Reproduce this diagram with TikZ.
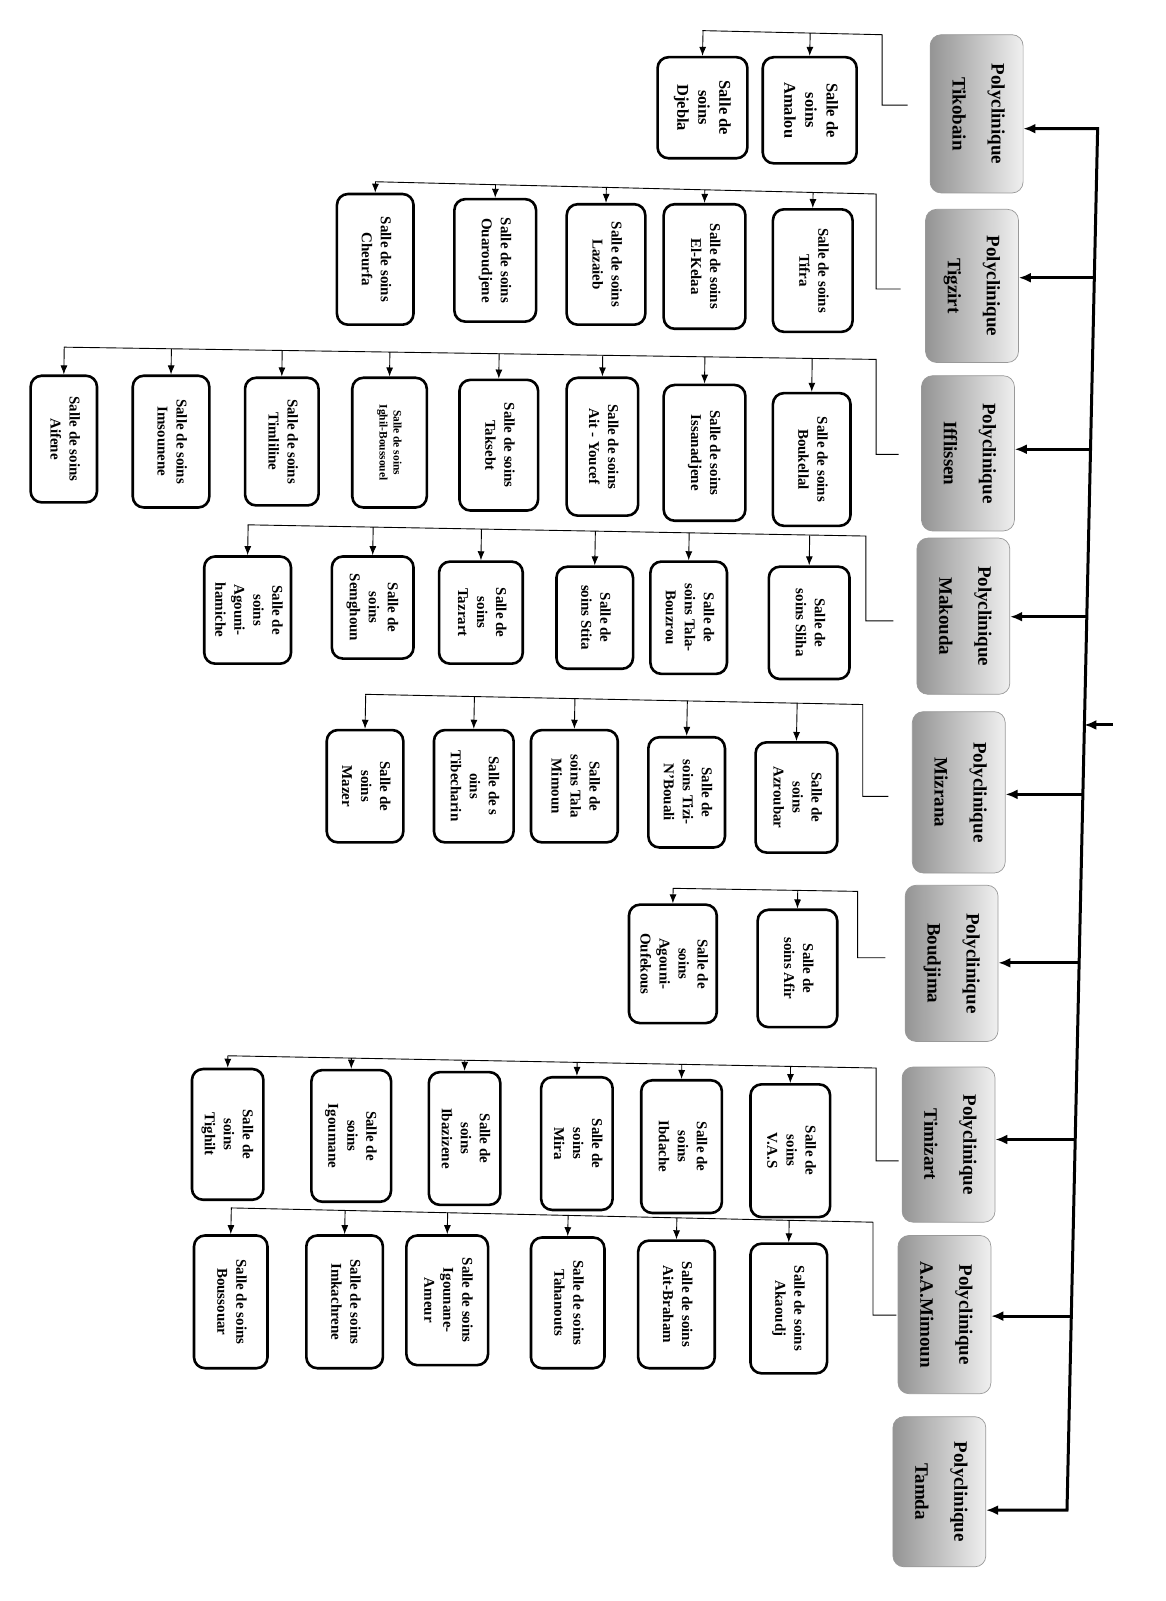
\documentclass[tikz,border=0pt]{standalone}
\usepackage{fontspec}
\setmainfont{Liberation Serif}
\usepackage{graphicx}
\usetikzlibrary{arrows.meta,calc}
\newcommand{\rotlab}[1]{\rotatebox{-90}{\begin{tabular}{@{}c@{}}#1\end{tabular}}}
\newcommand{\mkchild}[7][]{\node[sallebox,minimum width=#5*1.021pt,minimum height=#6*1.021pt,#1] (#2) at (#3,#4) {\rotlab{#7}};}
\newcommand{\mkpoly}[5]{\node[polybox,minimum height=#4*1.021pt] (#1) at (#2,#3) {\rotlab{Polyclinique\\[16pt]#5}};}
\begin{document}
\begin{tikzpicture}[x=1.021pt,y=-1.021pt,
  sallebox/.style={draw,line width=2.6pt,rounded corners=11pt,inner sep=0pt,font=\fontsize{15}{19}\selectfont\bfseries},
  polybox/.style={draw=gray!80,line width=0.7pt,rounded corners=11pt,inner sep=0pt,left color=black!42,right color=white!94!black,minimum width=91*1.021pt,font=\fontsize{19}{23}\selectfont\bfseries},
  conn/.style={line width=0.9pt},
  arr/.style={line width=0.9pt,-{Latex[length=9pt,width=7pt]}},
  bus/.style={line width=3pt},
  busarr/.style={line width=3pt,-{Latex[length=12pt,width=10pt]}}]
\useasboundingbox (0,0) rectangle (1141,1568);
% Polycliniques
\mkpoly{P1}{956.5}{111.5}{155}{Tikobain}
\mkpoly{P2}{952}{280}{150}{Tigzirt}
\mkpoly{P3}{948}{444}{152}{Ifflissen}
\mkpoly{P4}{943.5}{603.5}{153}{Makouda}
\mkpoly{P5}{939}{776}{158}{Mizrana}
\mkpoly{P6}{932}{943.5}{153}{Boudjima}
\mkpoly{P7}{929}{1121}{152}{Timizart}
\mkpoly{P8}{925}{1287.5}{155}{A.A.Mimoun}
\mkpoly{P9}{920}{1461}{147}{Tamda}
% bus
\coordinate (bT) at (1075,126);
\coordinate (bB) at (1045,1479);
\coordinate (b2) at (1071.8,272);
\coordinate (b3) at (1068,440);
\coordinate (b4) at (1064.4,604);
\coordinate (b5) at (1060.5,778);
\coordinate (b6) at (1056.9,943);
\coordinate (b7) at (1053,1116);
\coordinate (b8) at (1049.2,1289);
\coordinate (inS) at (1090,710);
\coordinate (inE) at (1062,710);
\draw[bus,{Latex[length=12pt,width=10pt]}-{Latex[length=12pt,width=10pt]}] (P9.east |- bB) -- (bB) -- (bT) -- (P1.east |- bT);
\foreach \b/\p in {b2/P2,b3/P3,b4/P4,b5/P5,b6/P6,b7/P7,b8/P8}
  \draw[busarr] (\b) -- (\p.east |- \b);
\draw[busarr] (inS) -- (inE);
% Group 1
\mkchild[font=\fontsize{16.5}{21}\selectfont\bfseries]{c11}{793}{108}{92}{104}{Salle de\\soins\\Amalou}
\mkchild[font=\fontsize{16.5}{21}\selectfont\bfseries]{c12}{688}{105.5}{88}{99}{Salle de\\soins\\Djebla}
\coordinate (s1) at (889,103);
\coordinate (eR1) at (864,34);
\coordinate (eL1) at (688,30);
\draw[conn] (s1) -| (eR1) -- (eL1);
\foreach \c in {c11,c12} \draw[arr] ($(eL1)!(\c.north)!(eR1)$) -- (\c.north);
% Group 2
\mkchild{c21}{796}{265}{78}{120}{Salle de soins\\Tifra}
\mkchild{c22}{690}{261}{80}{122}{Salle de soins\\El-Kelaa}
\mkchild{c23}{593.5}{259}{77}{118}{Salle de soins\\Lazaieb}
\mkchild{c24}{485}{255}{80}{120}{Salle de soins\\Ouaroudjene}
\mkchild{c25}{367.5}{254}{75}{128}{Salle de soins\\Cheurfa}
\coordinate (s2) at (882,283);
\coordinate (eR2) at (858,190);
\coordinate (eL2) at (367.5,178);
\draw[conn] (s2) -| (eR2) -- (eL2);
\foreach \c in {c21,c22,c23,c24,c25} \draw[arr] ($(eL2)!(\c.north)!(eR2)$) -- (\c.north);
% Group 3
\mkchild{c31}{795}{450}{76}{130}{Salle de soins\\Boukellal}
\mkchild{c32}{690}{443.5}{80}{133}{Salle de soins\\Issanadjene}
\mkchild{c33}{590}{437.5}{70}{135}{Salle de soins\\Ait - Youcef}
\mkchild{c34}{488.5}{436}{77}{128}{Salle de soins\\Taksebt}
\mkchild[font=\fontsize{11.5}{14}\selectfont\bfseries]{c35}{381.5}{433.5}{73}{127}{Salle de soins\\Ighil-Boussouel}
\mkchild{c36}{276}{432.5}{72}{125}{Salle de soins\\Timliline}
\mkchild{c37}{167.5}{432.5}{75}{129}{Salle de soins\\Imsounene}
\mkchild{c38}{62.5}{430}{65}{124}{Salle de soins\\Aifene}
\coordinate (s3) at (880,445);
\coordinate (eR3) at (858,352);
\coordinate (eL3) at (62.5,340);
\draw[conn] (s3) -| (eR3) -- (eL3);
\foreach \c in {c31,c32,c33,c34,c35,c36,c37,c38} \draw[arr] ($(eL3)!(\c.north)!(eR3)$) -- (\c.north);
% Group 4
\mkchild{c41}{792.5}{610}{79}{110}{Salle de\\soins Sliha}
\mkchild{c42}{674.5}{605}{75}{110}{Salle de\\soins Tala-\\Bouzrou}
\mkchild{c43}{582.5}{605}{75}{100}{Salle de\\soins Stita}
\mkchild{c44}{471}{600}{82}{100}{Salle de\\soins\\Tazrart}
\mkchild{c45}{365}{595}{80}{100}{Salle de\\soins\\Semghoun}
\mkchild{c46}{242.5}{597.5}{85}{105}{Salle de\\soins\\Agouni-\\hamiche}
\coordinate (s4) at (875,608);
\coordinate (eR4) at (848,525);
\coordinate (eL4) at (242.5,514);
\draw[conn] (s4) -| (eR4) -- (eL4);
\foreach \c in {c41,c42,c43,c44,c45,c46} \draw[arr] ($(eL4)!(\c.north)!(eR4)$) -- (\c.north);
% Group 5
\mkchild{c51}{780}{781}{80}{108}{Salle de\\soins\\Azroubar}
\mkchild{c52}{672.5}{776}{75}{108}{Salle de\\soins Tizi-\\N'Bouali}
\mkchild{c53}{562.5}{770}{85}{110}{Salle de\\soins Tala\\Mimoun}
\mkchild{c54}{464}{770}{78}{110}{Salle de s\\oins\\Tibecharin}
\mkchild{c55}{357.5}{770}{75}{110}{Salle de\\soins\\Mazer}
\coordinate (s5) at (870,780);
\coordinate (eR5) at (845,690);
\coordinate (eL5) at (357.5,680);
\draw[conn] (s5) -| (eR5) -- (eL5);
\foreach \c in {c51,c52,c53,c54,c55} \draw[arr] ($(eL5)!(\c.north)!(eR5)$) -- (\c.north);
% Group 6
\mkchild{c61}{781}{948.5}{78}{115}{Salle de\\soins Afir}
\mkchild{c62}{659}{944}{86}{116}{Salle de\\soins\\Agouni-\\Oufekous}
\coordinate (s6) at (867,938);
\coordinate (eR6) at (840,873);
\coordinate (eL6) at (659,870);
\draw[conn] (s6) -| (eR6) -- (eL6);
\foreach \c in {c61,c62} \draw[arr] ($(eL6)!(\c.north)!(eR6)$) -- (\c.north);
% Group 7
\mkchild{c71}{774}{1127}{78}{130}{Salle de\\soins\\V.A.S}
\mkchild{c72}{667.5}{1123}{79}{130}{Salle de\\soins\\Ibdache}
\mkchild{c73}{565}{1120}{70}{130}{Salle de\\soins\\Mira}
\mkchild{c74}{455}{1115}{70}{130}{Salle de\\soins\\Ibazizene}
\mkchild{c75}{344}{1112.5}{78}{129}{Salle de\\soins\\Igoumane}
\mkchild{c76}{223}{1111}{70}{128}{Salle de\\soins\\Tighilt}
\coordinate (s7) at (880,1137);
\coordinate (eR7) at (858,1046);
\coordinate (eL7) at (223,1034);
\draw[conn] (s7) -| (eR7) -- (eL7);
\foreach \c in {c71,c72,c73,c74,c75,c76} \draw[arr] ($(eL7)!(\c.north)!(eR7)$) -- (\c.north);
% Group 8
\mkchild{c81}{772.5}{1281.5}{75}{127}{Salle de soins\\Akaoudj}
\mkchild{c82}{662.5}{1277.5}{75}{125}{Salle de soins\\Ait-Braham}
\mkchild{c83}{556}{1276}{72}{128}{Salle de soins\\Tahanouts}
\mkchild{c84}{438}{1273.5}{80}{127}{Salle de soins\\Igounane-\\Ameur}
\mkchild{c85}{337.5}{1275}{75}{130}{Salle de soins\\Imkachrene}
\mkchild{c86}{226}{1275}{72}{130}{Salle de soins\\Boussouar}
\coordinate (s8) at (878,1288);
\coordinate (eR8) at (855,1197);
\coordinate (eL8) at (226,1183);
\draw[conn] (s8) -| (eR8) -- (eL8);
\foreach \c in {c81,c82,c83,c84,c85,c86} \draw[arr] ($(eL8)!(\c.north)!(eR8)$) -- (\c.north);
\end{tikzpicture}
\end{document}
